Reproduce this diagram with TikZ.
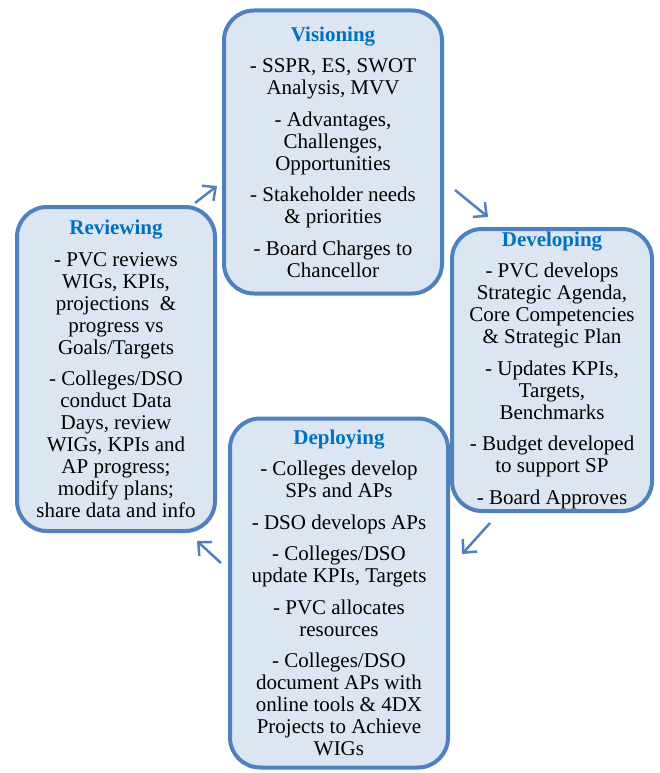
\documentclass[tikz,border=0pt]{standalone}
\usepackage{fontspec}
\setmainfont{Liberation Serif}
\usetikzlibrary{arrows.meta}
\definecolor{boxline}{HTML}{4F81BD}
\definecolor{boxfill}{HTML}{DCE6F2}
\definecolor{titleblue}{HTML}{0070C0}
\newcommand{\steptitle}[1]{\textcolor{titleblue}{\bfseries #1}}
\begin{document}
\begin{tikzpicture}[x=1pt,y=-1pt]
  \useasboundingbox (0,0) rectangle (660,773);
  \begin{scope}[every node/.style={draw=boxline,fill=boxfill,line width=4pt,
      rounded corners=30pt,align=center,inner sep=0pt,
      font={\fontsize{21}{22}\selectfont}}]
    \node[minimum width=218pt,minimum height=283pt] (vis) at (333,152)
      {\steptitle{Visioning}\\[9.5pt]
       - SSPR, ES, SWOT\\ Analysis, MVV\\[9.5pt]
       - Advantages,\\ Challenges,\\ Opportunities\\[9.5pt]
       - Stakeholder needs\\ \& priorities\\[9.5pt]
       - Board Charges to\\ Chancellor};
    \node[minimum width=200pt,minimum height=282pt] (dev) at (552,370)
      {\steptitle{Developing}\\[9.5pt]
       - PVC develops\\ Strategic Agenda,\\ Core Competencies\\ \& Strategic Plan\\[9.5pt]
       - Updates KPIs,\\ Targets,\\ Benchmarks\\[9.5pt]
       - Budget developed\\ to support SP\\[9.5pt]
       - Board Approves};
    \node[minimum width=218pt,minimum height=349pt] (dep) at (339,593)
      {\steptitle{Deploying}\\[9.5pt]
       - Colleges develop\\ SPs and APs\\[9.5pt]
       - DSO develops APs\\[9.5pt]
       - Colleges/DSO\\ update KPIs, Targets\\[9.5pt]
       - PVC allocates\\ resources\\[9.5pt]
       - Colleges/DSO\\ document APs with\\ online tools \& 4DX\\ Projects to Achieve\\ WIGs};
    \node[minimum width=198pt,minimum height=324pt] (rev) at (116,369)
      {\steptitle{Reviewing}\\[9.5pt]
       - PVC reviews\\ WIGs, KPIs,\\ projections \ \&\\ progress vs\\ Goals/Targets\\[9.5pt]
       - Colleges/DSO\\ conduct Data\\ Days, review\\ WIGs, KPIs and\\ AP progress;\\ modify plans;\\ share data and info};
  \end{scope}
  % arrow ends between the boxes
  \coordinate (rv1) at (195,203);
  \coordinate (rv2) at (217,186);
  \coordinate (vd1) at (455,190);
  \coordinate (vd2) at (488,217);
  \coordinate (dd1) at (490,523);
  \coordinate (dd2) at (462,554);
  \coordinate (dr1) at (221,563);
  \coordinate (dr2) at (197,541);
  \begin{scope}[every edge/.style={draw=boxline,line width=2.5pt,
      -{Straight Barb[length=10pt,width=19pt]}}]
    \path (rv1) edge (rv2);
    \path (vd1) edge (vd2);
    \path (dd1) edge (dd2);
    \path (dr1) edge (dr2);
  \end{scope}
\end{tikzpicture}
\end{document}
